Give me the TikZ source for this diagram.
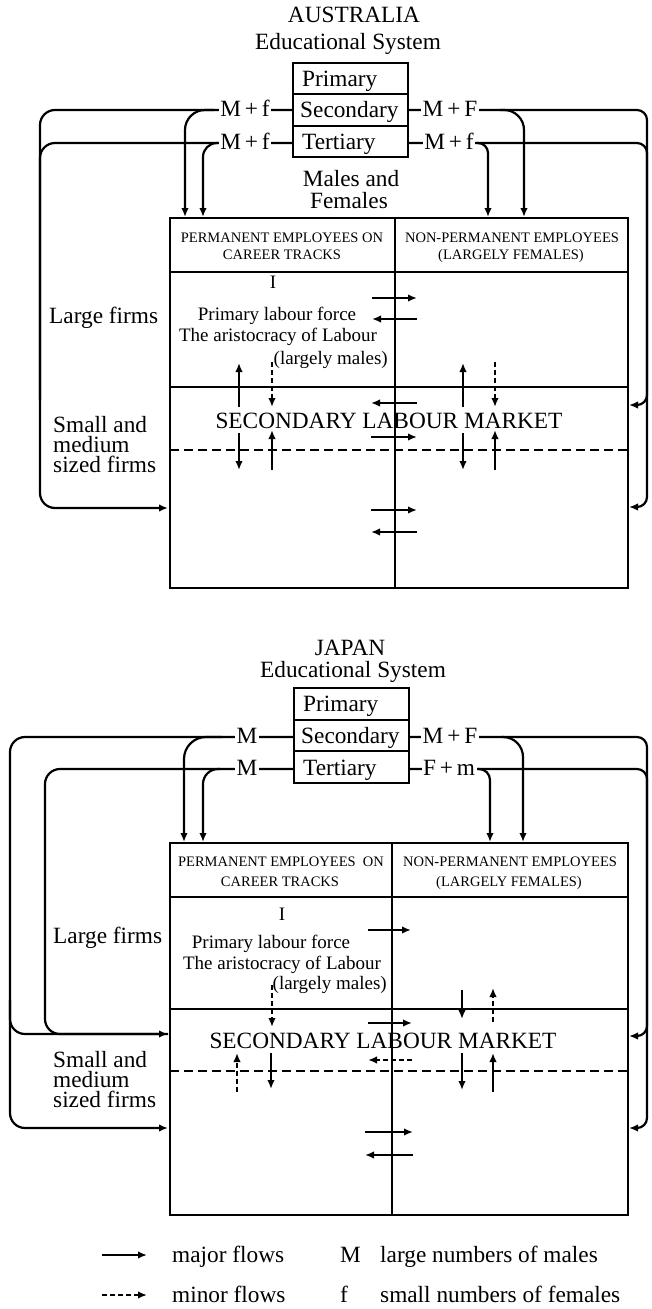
\documentclass[tikz,border=0pt]{standalone}
\usepackage{fontspec}
\setmainfont{Liberation Serif}
\usetikzlibrary{arrows.meta}
\tikzset{
  conn/.style={line width=2.2pt, rounded corners=15pt},
  tip/.style={-{Latex[length=9pt,width=7.5pt]}},
  major/.style={line width=2.3pt, -{Latex[length=9pt,width=7.5pt]}},
  minor/.style={line width=2.3pt, dash pattern=on 5pt off 3pt, -{Latex[length=9pt,width=7.5pt]}},
  boxline/.style={line width=1.8pt},
  gridline/.style={line width=1.2pt},
  dashline/.style={line width=1.4pt, dash pattern=on 9pt off 5pt},
  bigtxt/.style={font=\fontsize{23.3}{28}\selectfont, inner sep=0pt, anchor=base},
  stacktxt/.style={font=\fontsize{23.3}{20}\selectfont, inner sep=0pt, align=left, anchor=base west},
  bodytxt/.style={font=\fontsize{19}{22}\selectfont, inner sep=0pt, anchor=base},
  headtxt/.style={font=\fontsize{14.5}{17}\selectfont, inner sep=0pt, anchor=base},
  lbl/.style={font=\fontsize{23.3}{28}\selectfont, fill=white, inner xsep=1.5pt, inner ysep=1pt, anchor=base},
  rowbox/.style={draw, line width=1.8pt, minimum width=115pt, minimum height=31.33pt, inner sep=0pt},
}
\newcommand\flowarrow[4]{\coordinate (#4a) at (#2);\coordinate (#4b) at (#3);\draw[#1] (#4a) -- (#4b);}
\begin{document}
\begin{tikzpicture}[x=1pt,y=-1pt]
\useasboundingbox (0,0) rectangle (651,1309);

%================ AUSTRALIA =================
\node[bigtxt] (auTitle) at (354,22) {AUSTRALIA};
\node[bigtxt] (auEdu) at (348,49) {Educational System};

\node[rowbox] (auPri) at (350.5,78.67) {};
\node[rowbox] (auSec) at (350.5,110) {};
\node[rowbox] (auTer) at (350.5,141.33) {};
\node[bigtxt, anchor=base west] (auPriT) at (302,86) {Primary};
\node[bigtxt, anchor=base west] (auSecT) at (300,117.5) {Secondary};
\node[bigtxt, anchor=base west] (auTerT) at (302,149) {Tertiary};

\coordinate (auSecW) at (293,110);
\coordinate (auTerW) at (293,143);
\coordinate (auSecE) at (408,110);
\coordinate (auTerE) at (408,143);

% left connectors
\coordinate (auLin) at (168,508);
\draw[conn, tip] (auSecW) -- (40,110) -- (40,508) -- (auLin);
\draw[conn] (auTerW) -- (40,143) -- (40,400);
\coordinate (auA1) at (185,217);
\coordinate (auA2) at (203,217);
\draw[conn, tip, rounded corners=20pt] (214,110) -| (auA1);
\draw[conn, tip, rounded corners=14pt] (218,143) -| (auA2);
% right connectors
\coordinate (auR1) at (629,507);
\coordinate (auR2) at (629,405);
\draw[conn, tip, rounded corners=10pt] (auSecE) -- (647,110) -- (647,507) -- (auR1);
\draw[conn, tip, rounded corners=10pt] (auTerE) -- (647,143) -- (647,405) -- (auR2);
\coordinate (auA3) at (488,217);
\coordinate (auA4) at (524,217);
\draw[conn, tip, rounded corners=20pt] (500,110) -| (auA4);
\draw[conn, tip, rounded corners=10pt] (477,143) -| (auA3);

\node[lbl] (auLab1) at (245,116.5) {M\,+\,f};
\node[lbl] (auLab2) at (245,149) {M\,+\,f};
\node[lbl] (auLab3) at (450,116.5) {M\,+\,F};
\node[lbl] (auLab4) at (449,149) {M\,+\,f};

\node[bigtxt] (auMF1) at (351,186) {Males and};
\node[bigtxt] (auMF2) at (349,208) {Females};

% main box
\draw[boxline] (170,218) rectangle (628,588);
\draw[gridline] (170,272) -- (628,272);
\draw[gridline] (395,218) -- (395,588);
\draw[gridline] (170,387) -- (628,387);
\draw[dashline] (170,450) -- (628,450);

\node[headtxt] (auH1) at (282,242) {PERMANENT EMPLOYEES ON};
\node[headtxt] (auH2) at (282,259) {CAREER TRACKS};
\node[headtxt] (auH3) at (512,242) {NON-PERMANENT EMPLOYEES};
\node[headtxt] (auH4) at (511,259) {(LARGELY FEMALES)};

\node[bodytxt] (auI) at (273,288) {I};
\node[bodytxt] (auB1) at (277,320) {Primary labour force};
\node[bodytxt] (auB2) at (278,341) {The aristocracy of Labour};
\node[bodytxt, anchor=base east] (auB3) at (388,364) {(largely males)};

\node[bigtxt, anchor=base west] (auLF) at (49,323) {Large firms};
\node[stacktxt] (auSmall) at (53,472) {Small and\\medium\\sized firms};

\node[bigtxt] (auSLM) at (389,428) {SECONDARY LABOUR MARKET};

\flowarrow{major}{372,298}{417,298}{auH1f}
\flowarrow{major}{417,319}{372,319}{auH2f}
\flowarrow{major}{239,407}{239,363}{auV1}
\flowarrow{minor}{272,362}{272,407}{auV2}
\flowarrow{major}{463,407}{463,363}{auV3}
\flowarrow{minor}{495,362}{495,407}{auV4}
\flowarrow{major}{417,403}{371,403}{auH3f}
\flowarrow{major}{371,437}{417,437}{auH4f}
\flowarrow{major}{239,433}{239,470}{auV5}
\flowarrow{major}{272,470}{272,430}{auV6}
\flowarrow{major}{463,433}{463,470}{auV7}
\flowarrow{major}{495,470}{495,430}{auV8}
\flowarrow{major}{371,510}{417,510}{auH5f}
\flowarrow{major}{417,532}{371,532}{auH6f}

%================ JAPAN =================
\node[bigtxt] (jpTitle) at (350,655) {JAPAN};
\node[bigtxt] (jpEdu) at (353,677) {Educational System};

\node[rowbox, minimum height=31.67pt] (jpPri) at (351.5,703.8) {};
\node[rowbox, minimum height=31.67pt] (jpSec) at (351.5,735.5) {};
\node[rowbox, minimum height=31.67pt] (jpTer) at (351.5,767.2) {};
\node[bigtxt, anchor=base west] (jpPriT) at (303,711.5) {Primary};
\node[bigtxt, anchor=base west] (jpSecT) at (301,743) {Secondary};
\node[bigtxt, anchor=base west] (jpTerT) at (303,775) {Tertiary};

\coordinate (jpSecW) at (294,737);
\coordinate (jpTerW) at (294,769);
\coordinate (jpSecE) at (409,737);
\coordinate (jpTerE) at (409,769);

% left connectors
\coordinate (jpL1) at (168,1128);
\coordinate (jpL2) at (168,1034);
\draw[conn, tip] (jpSecW) -- (10,737) -- (10,1128) -- (jpL1);
\draw[conn] (10,1000) |- (jpL2);
\draw[conn, tip] (jpTerW) -- (45,769) -- (45,1034) -- (jpL2);
\coordinate (jpA1) at (184,842);
\coordinate (jpA2) at (203,842);
\draw[conn, tip, rounded corners=22pt] (222,737) -| (jpA1);
\draw[conn, tip, rounded corners=15pt] (220,769) -| (jpA2);
% right connectors
\coordinate (jpR1) at (629,1128);
\coordinate (jpR2) at (629,1036);
\draw[conn, tip, rounded corners=10pt] (jpSecE) -- (647,737) -- (647,1128) -- (jpR1);
\draw[conn, tip, rounded corners=10pt] (jpTerE) -- (647,769) -- (647,1036) -- (jpR2);
\coordinate (jpA3) at (490,842);
\coordinate (jpA4) at (523,842);
\draw[conn, tip, rounded corners=20pt] (502,737) -| (jpA4);
\draw[conn, tip, rounded corners=11pt] (478,769) -| (jpA3);

\node[lbl] (jpLab1) at (247,743) {M};
\node[lbl] (jpLab2) at (247,775) {M};
\node[lbl] (jpLab3) at (450,743) {M\,+\,F};
\node[lbl] (jpLab4) at (449,775) {F\,+\,m};

% main box
\draw[boxline] (170,843) rectangle (628,1215);
\draw[gridline] (170,897) -- (628,897);
\draw[gridline] (392,843) -- (392,1215);
\draw[gridline] (170,1009) -- (628,1009);
\draw[dashline] (170,1071) -- (628,1071);

\node[headtxt] (jpH1) at (281,866) {PERMANENT EMPLOYEES\ \ ON};
\node[headtxt] (jpH2) at (280,886) {CAREER TRACKS};
\node[headtxt] (jpH3) at (510,866) {NON-PERMANENT EMPLOYEES};
\node[headtxt] (jpH4) at (509,886) {(LARGELY FEMALES)};

\node[bodytxt] (jpI) at (282,920) {I};
\node[bodytxt] (jpB1) at (271,948) {Primary labour force};
\node[bodytxt] (jpB2) at (282,969) {The aristocracy of Labour};
\node[bodytxt, anchor=base east] (jpB3) at (387,989) {(largely males)};

\node[bigtxt, anchor=base west] (jpLF) at (53,943) {Large firms};
\node[stacktxt] (jpSmall) at (53,1107) {Small and\\medium\\sized firms};

\node[bigtxt] (jpSLM) at (383,1048) {SECONDARY LABOUR MARKET};

\flowarrow{major}{368,930}{411,930}{jpH1f}
\flowarrow{minor}{272,985}{272,1027}{jpV1}
\flowarrow{major}{462,990}{462,1019}{jpV2}
\flowarrow{minor}{493,1022}{493,988}{jpV3}
\flowarrow{major}{368,1023}{412,1023}{jpH2f}
\flowarrow{minor}{412,1060}{368,1060}{jpH3f}
\flowarrow{minor}{237,1092}{237,1053}{jpV4}
\flowarrow{major}{271,1053}{271,1089}{jpV5}
\flowarrow{major}{462,1053}{462,1090}{jpV6}
\flowarrow{major}{493,1092}{493,1053}{jpV7}
\flowarrow{major}{365,1132}{413,1132}{jpH4f}
\flowarrow{major}{413,1155}{365,1155}{jpH5f}

%================ LEGEND =================
\flowarrow{major}{102,1255}{147,1255}{lgA}
\flowarrow{minor}{102,1295}{147,1295}{lgB}
\node[bigtxt, anchor=base west] (lg1) at (172,1262) {major flows};
\node[bigtxt, anchor=base west] (lg2) at (340,1262) {M};
\node[bigtxt, anchor=base west] (lg3) at (380,1262) {large numbers of males};
\node[bigtxt, anchor=base west] (lg4) at (172,1302) {minor flows};
\node[bigtxt, anchor=base west] (lg5) at (340,1302) {f};
\node[bigtxt, anchor=base west] (lg6) at (380,1302) {small numbers of females};
\end{tikzpicture}
\end{document}
